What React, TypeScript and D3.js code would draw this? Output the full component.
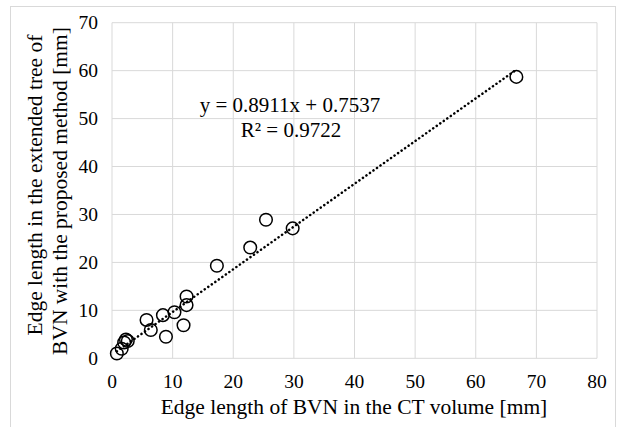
import React from "react";
import * as d3 from "d3";

const xValues = [0.8, 1.6, 2.0, 2.3, 2.6, 5.7, 6.4, 8.4, 8.9, 10.3, 11.8, 12.3, 12.3, 17.3, 22.8, 25.4, 29.8, 66.7];
const yValues = [1.0, 2.0, 3.3, 3.9, 3.6, 8.0, 5.9, 9.0, 4.5, 9.6, 6.9, 12.9, 11.1, 19.3, 23.1, 28.9, 27.1, 58.7];
const xTicks = [0, 10, 20, 30, 40, 50, 60, 70, 80];
const yTicks = [0, 10, 20, 30, 40, 50, 60, 70];
const slope = 0.8911;
const intercept = 0.7537;
const equationLines = ["y = 0.8911x + 0.7537", "R² = 0.9722"];
const xTitle = "Edge length of BVN in the CT volume [mm]";
const yTitleLines = ["Edge length in the extended tree of", "BVN with the proposed method [mm]"];

export default function App() {
  const W = 619, H = 427;
  const left = 112, right = 597, top = 22.7, bottom = 358.3;
  const x = d3.scaleLinear().domain([0, 80]).range([left, right]);
  const y = d3.scaleLinear().domain([0, 70]).range([bottom, top]);
  const font = "Liberation Serif";
  const grid = "#d9d9d9";
  const xMin = d3.min(xValues) as number;
  const xMax = d3.max(xValues) as number;
  const line = d3.line<number>().x((v) => x(v)).y((v) => y(slope * v + intercept));
  const ts = (size: number) => ({ fontFamily: font, fontSize: size + "px" });
  return (
    <svg width={W} height={H} style={{ position: "absolute", left: 0, top: 0, background: "#fff" }}>
      <rect x={10.5} y={6.5} width={605} height={430} fill="#fff" stroke={grid} strokeWidth={1} />
      {xTicks.map((t) => (
        <line key={"gx" + t} x1={x(t)} x2={x(t)} y1={top} y2={bottom} stroke={grid} strokeWidth={1} />
      ))}
      {yTicks.map((t) => (
        <line key={"gy" + t} x1={left} x2={right} y1={y(t)} y2={y(t)} stroke={grid} strokeWidth={1} />
      ))}
      {xTicks.map((t) => (
        <text key={"tx" + t} x={x(t)} y={bottom + 30} textAnchor="middle" style={ts(19.5)} fill="#000">{t}</text>
      ))}
      {yTicks.map((t) => (
        <text key={"ty" + t} x={left - 14} y={y(t) + 6.5} textAnchor="end" style={ts(19.5)} fill="#000">{t}</text>
      ))}
      <path d={line([xMin, xMax]) || ""} fill="none" stroke="#000" strokeWidth={2.5} strokeDasharray="0.1 4.2" strokeLinecap="round" />
      {xValues.map((v, i) => (
        <circle key={"p" + i} cx={x(v)} cy={y(yValues[i])} r={6.3} fill="none" stroke="#000" strokeWidth={1.5} />
      ))}
      <text x={290} y={112} textAnchor="middle" style={ts(21)} fill="#000">{equationLines[0]}</text>
      <text x={291} y={137} textAnchor="middle" style={ts(21)} fill="#000">{equationLines[1]}</text>
      <text x={354} y={414} textAnchor="middle" style={ts(21.5)} fill="#000">{xTitle}</text>
      <text transform="translate(42,185) rotate(-90)" textAnchor="middle" style={ts(21.5)} fill="#000">{yTitleLines[0]}</text>
      <text transform="translate(67,191) rotate(-90)" textAnchor="middle" style={ts(21.5)} fill="#000">{yTitleLines[1]}</text>
    </svg>
  );
}
